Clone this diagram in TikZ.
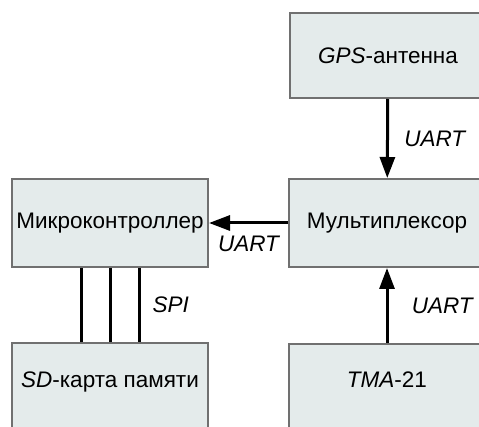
\documentclass[tikz,border=0pt]{standalone}
\usepackage{fontspec}
\setmainfont{Liberation Sans}
\usetikzlibrary{positioning, arrows.meta}

\definecolor{boxfill}{RGB}{228,235,235}
\definecolor{boxline}{RGB}{112,112,112}

\begin{document}
\begin{tikzpicture}[x=1pt, y=-1pt,
    block/.style={draw=boxline, line width=2pt, fill=boxfill, minimum width=196pt,
        minimum height=88pt, inner sep=1pt, font=\fontsize{22.5}{27}\selectfont},
    cutblock/.style={block, anchor=north, minimum height=0pt, inner sep=0pt,
        text height=44pt, text depth=60pt},
    link/.style={line width=3pt, -{Triangle[length=21pt, width=15pt]}},
    bus/.style={line width=3pt},
    tag/.style={font=\fontsize{22.5}{27}\selectfont\itshape}
]
    \useasboundingbox (0,0) rectangle (479,427);
    \clip (0,0) rectangle (479,427);

    \node[block, minimum height=85pt] (gps) at (388,55.5) {\textit{GPS}-антенна};
    \node[block] (mux) at (387,223) {Мультиплексор};
    \node[block] (mcu) at (110,223) {Микроконтроллер};
    \node[cutblock] (sd) at (110,342) {\textit{SD}-карта памяти};
    \node[cutblock] (tma) at (387,343) {\textit{TMA}-21};

    \draw[link] (gps) -- node[tag, midway, right=12pt] {UART} (mux);
    \draw[link] (tma) -- node[tag, midway, right=20pt] {UART} (mux);
    \draw[link] (mux.west) -- node[tag, midway, below=8pt] {UART} (mcu.east);

    \foreach \dx in {-29,0,29}
        \draw[bus] ([xshift=\dx pt]mcu.south) -- ([xshift=\dx pt]sd.north);
    \node[tag, right=10pt] (spi) at ([xshift=29pt, yshift=-37pt]mcu.south) {SPI};
\end{tikzpicture}
\end{document}
